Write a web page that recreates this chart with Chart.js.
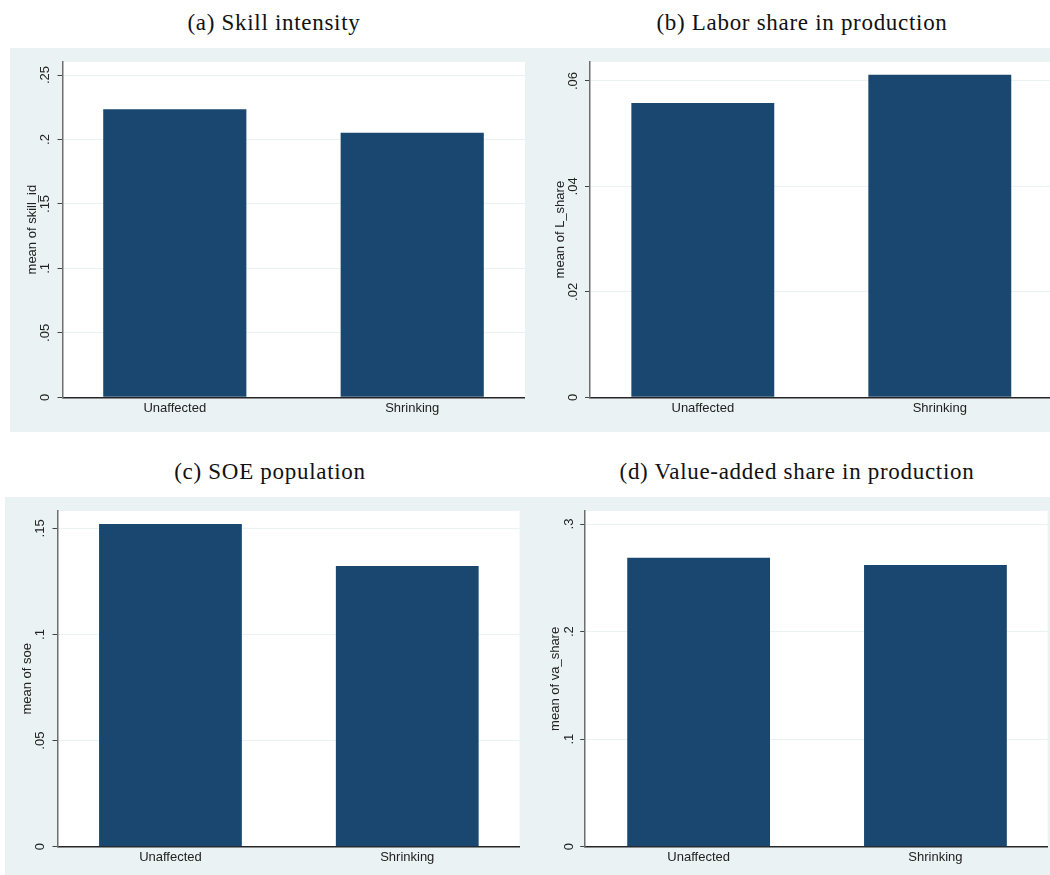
<!DOCTYPE html>
<html>
<head>
<meta charset="utf-8">
<script src="https://cdn.jsdelivr.net/npm/chart.js@4"></script>
<style>
  body { margin: 0; background: #fff; }
  #page { position: relative; width: 1050px; height: 875px; background: #fff; overflow: hidden; }
  canvas { position: absolute; background: #eaf2f3; }
  .panel-title {
    position: absolute; width: 500px; text-align: center;
    font: 23px "Liberation Serif", "DejaVu Serif", serif; line-height: 26px;
    letter-spacing: 0.7px; color: #111;
  }
</style>
</head>
<body>
<div id="page">
  <div class="panel-title" style="left:24px;top:10px">(a) Skill intensity</div>
  <div class="panel-title" style="left:552px;top:10px">(b) Labor share in production</div>
  <div class="panel-title" style="left:20px;top:459px">(c) SOE population</div>
  <div class="panel-title" style="left:547px;top:459px">(d) Value-added share in production</div>

  <canvas id="chart-a" width="515" height="384" style="left:10px;top:48px"></canvas>
  <canvas id="chart-b" width="525" height="384" style="left:525px;top:48px"></canvas>
  <canvas id="chart-c" width="515" height="378" style="left:5px;top:497px"></canvas>
  <canvas id="chart-d" width="530" height="378" style="left:520px;top:497px"></canvas>
</div>

<script>
const categories = ['Unaffected', 'Shrinking'];

const skillValues = [0.2234, 0.2052];
const laborValues = [0.0558, 0.0612];
const soeValues = [0.1521, 0.1323];
const vaValues = [0.2686, 0.2618];

const skillTicks = [0, 0.05, 0.1, 0.15, 0.2, 0.25];
const laborTicks = [0, 0.02, 0.04, 0.06];
const soeTicks = [0, 0.05, 0.1, 0.15];
const vaTicks = [0, 0.1, 0.2, 0.3];

const barColor = '#1a476f';
const textColor = '#222';

// stata style labels: ".05" instead of "0.05"
function formatTick(value) {
  return value === 0 ? '0' : String(value).replace(/^0\./, '.');
}

// white plot region on top of the grey graph region
const plotBackground = {
  id: 'plotBackground',
  beforeDraw(chart) {
    const { ctx, chartArea } = chart;
    ctx.save();
    ctx.fillStyle = '#fff';
    ctx.fillRect(chartArea.left, chartArea.top, chartArea.right - chartArea.left, chartArea.bottom - chartArea.top);
    ctx.restore();
  }
};

function drawPanel(canvasId, values, ticks, yTitle, opts) {
  const ctx = document.getElementById(canvasId).getContext('2d');

  new Chart(ctx, {
    type: 'bar',
    data: {
      datasets: [{
        data: values.map((v, i) => ({ x: i, y: v })),
        backgroundColor: barColor,
        borderWidth: 0,
        barPercentage: 0.603,
        categoryPercentage: 1
      }]
    },
    options: {
      responsive: false,
      animation: false,
      layout: { padding: { top: 14, right: opts.rightPad, bottom: 0, left: 0 } },
      plugins: {
        legend: { display: false },
        tooltip: { enabled: false }
      },
      scales: {
        x: {
          type: 'linear',
          offset: false,
          min: opts.xMin,
          max: opts.xMax,
          afterBuildTicks: scale => { scale.ticks = categories.map((c, i) => ({ value: i })); },
          afterFit: scale => { scale.height = opts.xHeight; },
          grid: { display: false, drawTicks: false },
          border: { display: true, color: '#262626', width: 1.5 },
          ticks: {
            padding: 3,
            color: textColor,
            font: { family: 'Liberation Sans', size: 13 },
            callback: value => categories[value]
          }
        },
        y: {
          min: 0,
          max: opts.yMax,
          afterBuildTicks: scale => { scale.ticks = ticks.map(t => ({ value: t })); },
          afterFit: scale => { scale.width = opts.yWidth; },
          grid: { color: '#eaf2f3', lineWidth: 1, tickColor: '#444', tickLength: 5 },
          border: { display: true, color: '#6e6e6e', width: 1.5 },
          ticks: {
            minRotation: 90,
            maxRotation: 90,
            crossAlign: 'center',
            padding: opts.tickPad,
            color: textColor,
            font: { family: 'Liberation Sans', size: 13 },
            callback: value => formatTick(value)
          },
          title: {
            display: true,
            text: yTitle,
            color: textColor,
            font: { family: 'Liberation Sans', size: 13 },
            padding: { top: opts.titlePad, bottom: 0 }
          }
        }
      }
    },
    plugins: [plotBackground]
  });
}

drawPanel('chart-a', skillValues, skillTicks, 'mean of skill_id',
  { xMin: -0.473, xMax: 1.475, yMax: 0.2601, yWidth: 52.5, xHeight: 34.7, rightPad: 0, tickPad: 3, titlePad: 14.2 });

drawPanel('chart-b', laborValues, laborTicks, 'mean of L_share',
  { xMin: -0.476, xMax: 1.465, yMax: 0.0636, yWidth: 65, xHeight: 34.7, rightPad: 0, tickPad: 3, titlePad: 27.2 });

drawPanel('chart-c', soeValues, soeTicks, 'mean of soe',
  { xMin: -0.477, xMax: 1.474, yMax: 0.1582, yWidth: 52.5, xHeight: 28.3, rightPad: 0.5, tickPad: 3, titlePad: 14.2 });

drawPanel('chart-d', vaValues, vaTicks, 'mean of va_share',
  { xMin: -0.479, xMax: 1.474, yMax: 0.3121, yWidth: 65.2, xHeight: 28.3, rightPad: 2.3, tickPad: 5.6, titlePad: 27.7 });
</script>
</body>
</html>
